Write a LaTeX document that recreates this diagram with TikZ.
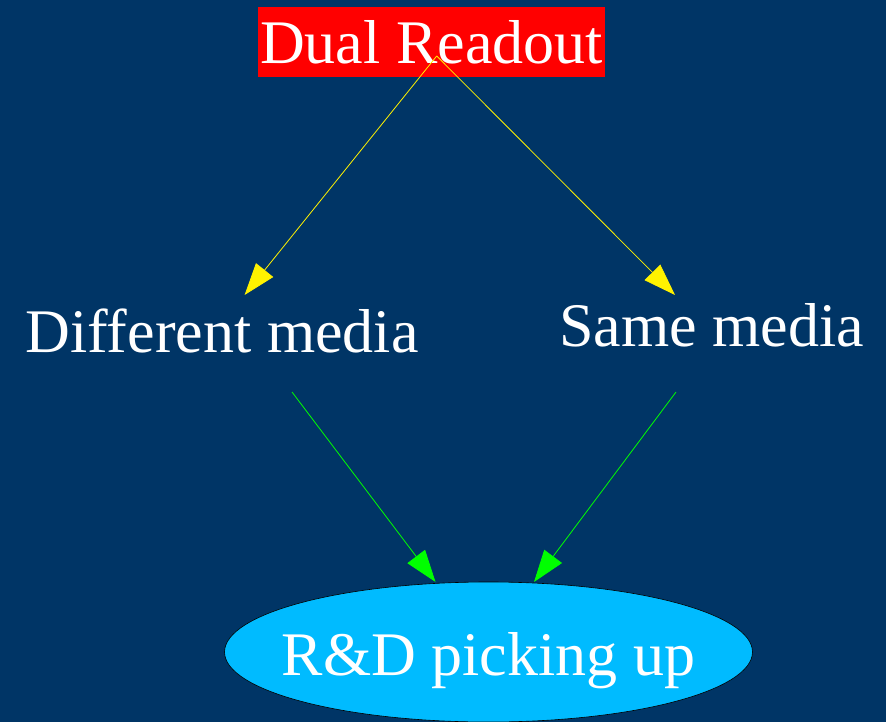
\documentclass[tikz,border=0pt]{standalone}
\usepackage{fontspec}
\setmainfont{Liberation Serif}
\usetikzlibrary{arrows.meta,shapes.geometric}
\definecolor{bgblue}{RGB}{0,53,102}
\definecolor{skyfill}{RGB}{0,187,255}
\begin{document}
\begin{tikzpicture}[x=1pt,y=-1pt,
  lbl/.style={text=white,font=\fontsize{62}{62}\selectfont,inner sep=0pt},
  yarr/.style={draw=yellow,line width=0.8pt,-{Triangle[length=32pt,width=22pt,fill=yellow]}},
  garr/.style={draw=green,line width=0.8pt,-{Triangle[length=32pt,width=22pt,fill=green]}}]
\fill[bgblue] (0,0) rectangle (886,722);
\useasboundingbox (0,0) rectangle (886,722);
\node[lbl,fill=red,minimum width=347pt,text height=56.6pt,text depth=14pt] (dual) at (431.5,42) {Dual Readout};
\node[lbl,anchor=base] (diff) at (222,352.7) {Different media};
\node[lbl,anchor=base] (same) at (711.5,346.7) {Same media};
\node[lbl,ellipse,draw=black,line width=0.6pt,fill=skyfill,inner xsep=-20pt,inner ysep=26.5pt,text height=46pt,text depth=0pt] (rd) at (488.5,652) {R\&D picking up};
\draw[yarr] ([shift={(5.2,14)}]dual.center) -- ([shift={(22.6,-57.7)}]diff.base);
\draw[yarr] ([shift={(5.2,14)}]dual.center) -- ([shift={(-36.5,-51.7)}]same.base);
\draw[garr] ([shift={(70,39.3)}]diff.base) -- ([shift={(-53,-70)}]rd.center);
\draw[garr] ([shift={(-35.5,45.3)}]same.base) -- ([shift={(45.5,-70)}]rd.center);
\end{tikzpicture}
\end{document}
